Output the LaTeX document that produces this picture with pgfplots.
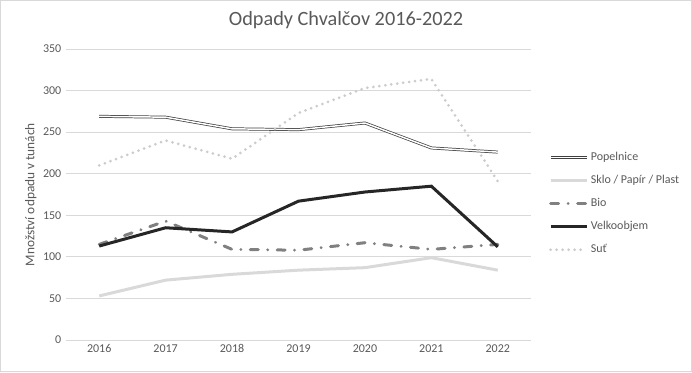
\documentclass[border=0pt]{standalone}
\usepackage{pgfplots}
\pgfplotsset{compat=1.18}
\usepackage{fontspec}
\setmainfont{Carlito}
\definecolor{txt}{HTML}{595959}
\definecolor{gridgray}{HTML}{D9D9D9}
\definecolor{lightline}{HTML}{D9D9D9}
\begin{document}
\begin{tikzpicture}
\draw[gridgray, line width=0.75pt] (0.375pt,0.375pt) rectangle (518.625pt,278.625pt);
\node[text=txt, font=\fontsize{15.2}{17}\selectfont] at (259.5pt,264pt) {Odpady Chvalčov 2016-2022};
\begin{axis}[
  at={(49.5pt,24pt)}, anchor=south west,
  scale only axis, width=348.75pt, height=218.25pt,
  xmin=-0.5, xmax=6.5, ymin=0, ymax=350,
  xtick={0,...,6}, xticklabels={2016,2017,2018,2019,2020,2021,2022},
  ytick={0,50,...,350},
  axis line style={draw=none},
  ymajorgrids=true, xmajorgrids=false,
  major grid style={draw=gridgray, line width=0.75pt},
  major tick length=0pt,
  tick label style={text=txt, font=\fontsize{9}{10}\selectfont},
  /pgf/number format/assume math mode=true,
  ylabel={Množství odpadu v tunách},
  ylabel style={text=txt, font=\fontsize{10}{12}\selectfont},
  ylabel shift=-2pt,
  legend cell align=left,
  legend image code/.code={\draw[#1] plot coordinates {(0pt,0pt) (13.5pt,0pt) (27pt,0pt)};},
  legend style={draw=none, fill=none, at={(1.03,0.665)}, anchor=north west,
    font=\fontsize{9}{10}\selectfont, text=txt, row sep=5.6pt,
    /tikz/every even column/.append style={column sep=1pt}},
]
\addplot[black!75, line width=0.55pt, double=white, double distance=1.1pt]
 coordinates {(0,269) (1,268) (2,254) (3,253) (4,261) (5,231) (6,226)};
\addlegendentry{Popelnice}
\addplot[lightline, line width=2.25pt]
 coordinates {(0,53) (1,72) (2,79) (3,84) (4,87) (5,99) (6,84)};
\addlegendentry{Sklo / Papír / Plast}
\addplot[black!50, line width=2.25pt, dash pattern=on 6pt off 7pt on 0.1pt off 7pt, line cap=round]
 coordinates {(0,115) (1,143) (2,109) (3,108) (4,117) (5,109) (6,115)};
\addlegendentry{Bio}
\addplot[black!85, line width=2.25pt]
 coordinates {(0,113) (1,135) (2,130) (3,167) (4,178) (5,185) (6,112)};
\addlegendentry{Velkoobjem}
\addplot[black!20, line width=2.25pt, dash pattern=on 0pt off 4.5pt, line cap=round]
 coordinates {(0,210) (1,240) (2,218) (3,273) (4,303) (5,314) (6,191)};
\addlegendentry{Suť}
\end{axis}
\end{tikzpicture}
\end{document}
